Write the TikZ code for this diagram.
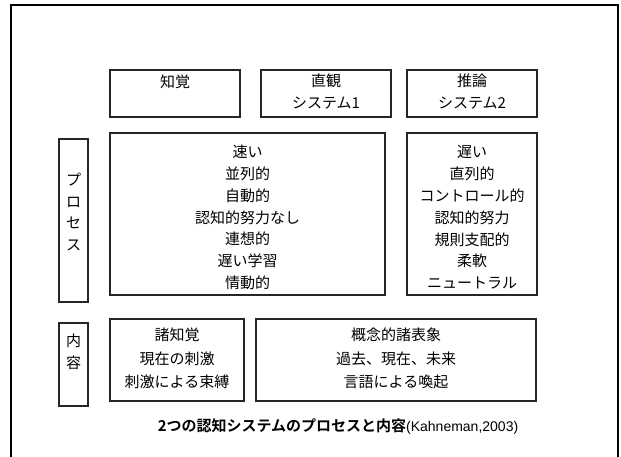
\documentclass[tikz,border=0pt]{standalone}
\usepackage{fontspec}
\setmainfont{Liberation Sans}
\newfontfamily\jp{Noto Sans CJK JP}
\newfontfamily\jpb{Noto Sans CJK JP Bold}
\begin{document}
\begin{tikzpicture}[x=1pt,y=-1pt,
  box/.style={draw=black!85, line width=1.3pt, inner sep=0pt, outer sep=0pt},
  txt/.style={font=\jp\fontsize{15}{21.8}\selectfont, align=center, inner sep=0pt},
  ctxt/.style={font=\jp\fontsize{15}{23.5}\selectfont, align=center, inner sep=0pt}]
\useasboundingbox (0,0) rectangle (621,457);
\fill[white] (0,0) rectangle (621,457);
% outer frame
\draw[line width=2.6pt] (11,470) -- (11,5) -- (618,5) -- (618,470);
% top row
\node[box, minimum width=130pt, minimum height=47pt] (chikaku) at (175,93.5) {};
\node[box, minimum width=130pt, minimum height=47pt] (chokkan) at (326,93.5) {};
\node[box, minimum width=130pt, minimum height=47pt] (suiron) at (472,93.5) {};
\node[txt, anchor=center] (tchikaku) at ([yshift=-11.5pt]chikaku.north) {知覚};
\node[txt, anchor=north] (tchokkan) at ([yshift=-4pt]chokkan.north) {直観\\システム1};
\node[txt, anchor=north] (tsuiron) at ([yshift=-4pt]suiron.north) {推論\\システム2};
% process row
\node[box, minimum width=29pt, minimum height=163pt] (proc) at (73.5,220.5) {};
\node[txt, font=\jp\fontsize{15}{21.5}\selectfont] (tproc) at (73.5,212) {プ\\ロ\\セ\\ス};
\node[box, minimum width=275pt, minimum height=162pt] (fast) at (247.5,214) {};
\node[txt] (tfast) at (247.5,217.5) {速い\\並列的\\自動的\\認知的努力なし\\連想的\\遅い学習\\情動的};
\node[box, minimum width=130pt, minimum height=162pt] (slow) at (472,214) {};
\node[txt] (tslow) at (472,217.5) {遅い\\直列的\\コントロール的\\認知的努力\\規則支配的\\柔軟\\ニュートラル};
% content row
\node[box, minimum width=29pt, minimum height=83pt] (cont) at (73.5,364.5) {};
\node[txt] (tcont) at (73.5,351.5) {内\\容};
\node[box, minimum width=134pt, minimum height=82pt] (percept) at (177,360) {};
\node[ctxt] (tpercept) at (177,358.5) {諸知覚\\現在の刺激\\刺激による束縛};
\node[box, minimum width=280pt, minimum height=82pt] (concept) at (396,360) {};
\node[ctxt] (tconcept) at (396,358.5) {概念的諸表象\\過去、現在、未来\\言語による喚起};
% caption
\node[inner sep=0pt] (caption) at (338,427) {{\jpb\fontsize{15}{17}\selectfont 2つの認知システムのプロセスと内容}{\fontsize{14}{17}\selectfont (Kahneman,2003)}};
\end{tikzpicture}
\end{document}
